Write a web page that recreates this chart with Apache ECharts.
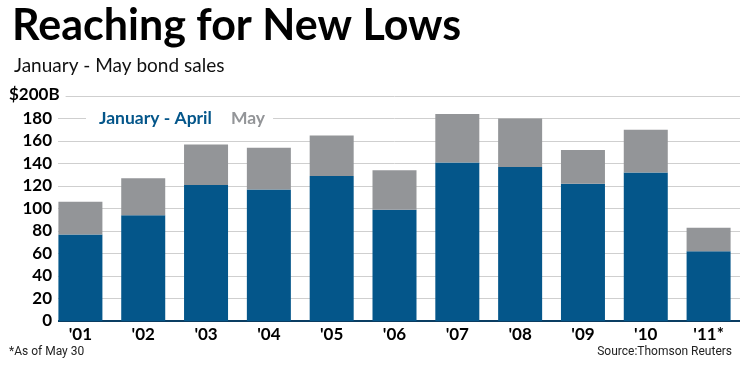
<!DOCTYPE html>
<html><head><meta charset="utf-8">
<script src="https://cdn.jsdelivr.net/npm/echarts@6/dist/echarts.min.js"></script>
<style>html,body{margin:0;padding:0;background:#fff}#c{width:740px;height:370px}</style>
</head><body><div id="c"></div>
<script>
const categories = ["'01","'02","'03","'04","'05","'06","'07","'08","'09","'10","'11*"];
const janApr = [77, 94, 121, 117, 129, 99, 141, 137, 122, 132, 62];
const may = [29, 33, 36, 37, 36, 35, 43, 43, 30, 38, 21];
const yTicks = [0, 20, 40, 60, 80, 100, 120, 140, 160, 180, 200];

const BLUE = '#04568a', GRAY = '#939598';
const FONT = 'Lato';
const chart = echarts.init(document.getElementById('c'));
chart.setOption({
  animation: false,
  backgroundColor: '#fff',
  grid: { left: 49, right: 0, top: 96, bottom: 49 },
  title: [
    { text: 'Reaching for New Lows', left: 7, top: 0, textStyle: { fontFamily: FONT, fontWeight: 'bold', fontSize: 43, color: '#000' } },
    { text: 'January - May bond sales', left: 9, top: 51, textStyle: { fontFamily: FONT, fontWeight: 'normal', fontSize: 19, color: '#111' } }
  ],
  legend: {
    left: 86, top: 107, icon: 'none', itemWidth: 0, itemGap: 14,
    backgroundColor: '#fff', padding: [2, 8],
    data: [
      { name: 'January - April', textStyle: { color: BLUE } },
      { name: 'May', textStyle: { color: GRAY } }
    ],
    textStyle: { fontFamily: FONT, fontWeight: 'bold', fontSize: 17.5, padding: 0 },
    selectedMode: false
  },
  xAxis: {
    type: 'category', data: categories,
    axisTick: { show: false },
    axisLine: { show: true, lineStyle: { color: '#0a3d62', width: 2 } },
    axisLabel: { fontFamily: FONT, fontWeight: 'bold', fontSize: 17, color: '#000', margin: 5 }
  },
  yAxis: {
    type: 'value', min: 0, max: 200, interval: 20,
    axisLine: { show: false }, axisTick: { show: false },
    splitLine: { lineStyle: { color: '#cfcfcf', width: 1 } },
    axisLabel: {
      fontFamily: FONT, fontWeight: 'bold', fontSize: 17, color: '#000', margin: -9,
      backgroundColor: '#fff', padding: [0, 6, 0, 0],
      formatter: v => (v === 200 ? '' : (yTicks.includes(v) ? String(v) : ''))
    }
  },
  graphic: [
    { type: 'text', left: 9, top: 86, style: { text: '$200B', fontFamily: FONT, fontWeight: 'bold', fontSize: 17, fill: '#000', backgroundColor: '#fff', padding: [0, 6, 0, 0] }, z: 100 },
    { type: 'text', left: 9, top: 346, style: { text: '*As of May 30', fontFamily: 'Liberation Sans Narrow, Roboto', fontSize: 12, fill: '#222' } },
    { type: 'text', right: 8, top: 346, style: { text: 'Source:Thomson Reuters', fontFamily: 'Liberation Sans Narrow, Roboto', fontSize: 12, fill: '#222' } }
  ],
  series: [
    { name: 'January - April', type: 'bar', stack: 's', data: janApr, barWidth: 44, itemStyle: { color: BLUE } },
    { name: 'May', type: 'bar', stack: 's', data: may, barWidth: 44, itemStyle: { color: GRAY } }
  ]
});
</script></body></html>
